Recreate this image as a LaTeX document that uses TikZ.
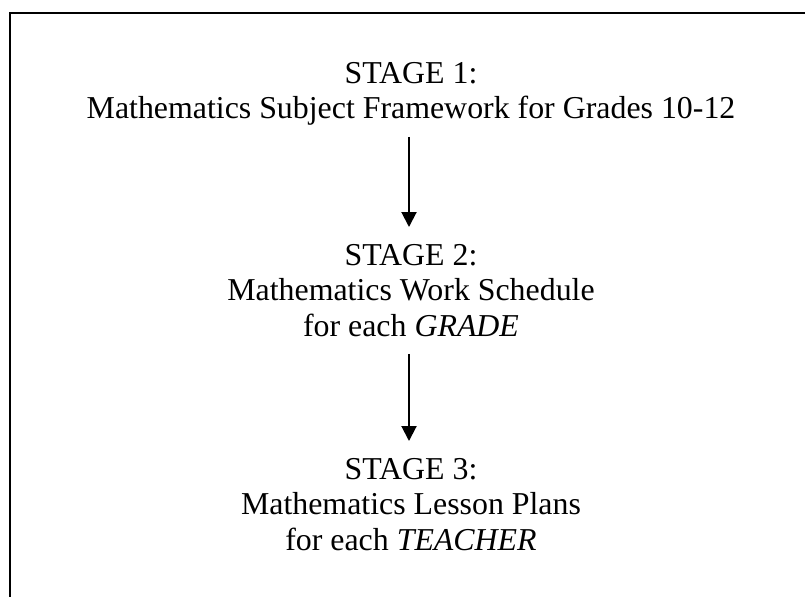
\documentclass[tikz,border=0pt]{standalone}
\usepackage{fontspec}
\setmainfont{Liberation Serif}
\usetikzlibrary{arrows.meta}
\begin{document}
\begin{tikzpicture}[x=0.75pt,y=-0.75pt,
  stagetext/.style={align=center,inner sep=0pt,anchor=north,font=\fontsize{23.9}{26.6}\selectfont},
  flow/.style={line width=1.5pt,-{Triangle[width=11.25pt,length=11.25pt]}},
  frame/.style={line width=1.6pt}]
\useasboundingbox (0,0) rectangle (805,596);
\draw[frame] (10,600) -- (10,13) -- (810,13);
\node[stagetext] (s1) at (411,62) {STAGE 1:\\Mathematics Subject Framework for Grades 10-12};
\node[stagetext] (s2) at (411,244) {STAGE 2:\\Mathematics Work Schedule\\for each \textit{GRADE}};
\node[stagetext] (s3) at (411,458) {STAGE 3:\\Mathematics Lesson Plans\\for each \textit{TEACHER}};
\draw[flow,shorten <=8.25pt,shorten >=12.75pt] (s1.south -| 409,0) -- (s2.north -| 409,0);
\draw[flow,shorten <=12.75pt,shorten >=12.75pt] (s2.south -| 409,0) -- (s3.north -| 409,0);
\end{tikzpicture}
\end{document}
